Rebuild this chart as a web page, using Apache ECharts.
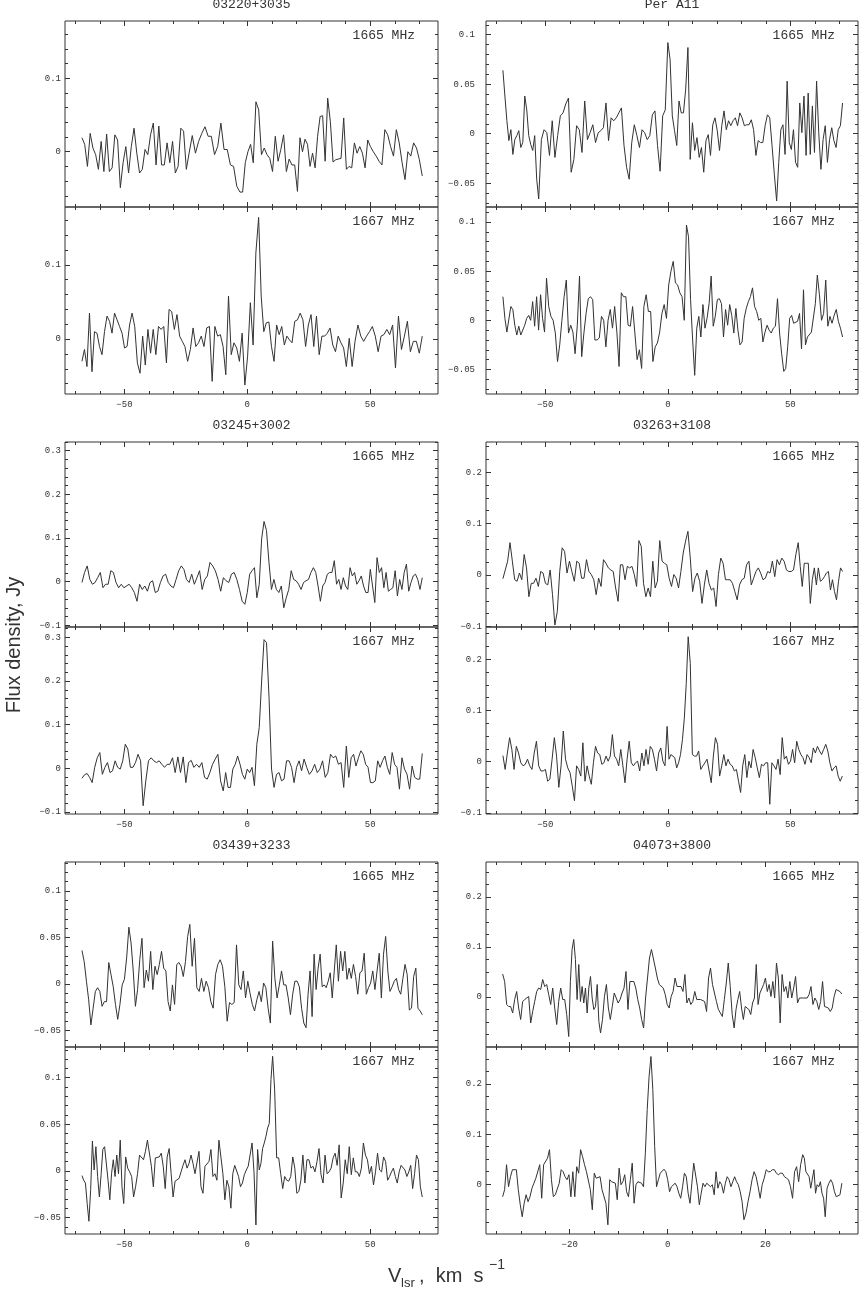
<!DOCTYPE html>
<html><head><meta charset="utf-8">
<script src="https://cdn.jsdelivr.net/npm/echarts@6/dist/echarts.min.js"></script>
<style>html,body{margin:0;padding:0;background:#fff}#c{width:859px;height:1291px}</style>
</head><body><div id="c"></div><script>
// ---------------- data ----------------
const sources = ['03220+3035', 'Per A11', '03245+3002', '03263+3108', '03439+3233', '04073+3800'];
const lineNames = ['1665 MHz', '1667 MHz'];

// velocity axes (km/s)
const xRange = [-74.2, 77.6];
const xRangeF = [-37.1, 38.9];
const xMajor = [-50, 0, 50];
const xMinor = [-70, -60, -50, -40, -30, -20, -10, 0, 10, 20, 30, 40, 50, 60, 70];
const xMajorF = [-20, 0, 20];
const xMinorF = [-35, -30, -25, -20, -15, -10, -5, 0, 5, 10, 15, 20, 25, 30, 35];

// flux axes (Jy)
const yRangeA = [[-0.0753, 0.178], [-0.074, 0.178]];
const yRangeB = [[-0.0741, 0.1138], [-0.075, 0.1153]];
const yRangeC = [[-0.104, 0.32], [-0.105, 0.324]];
const yRangeD = [[-0.1008, 0.2585], [-0.102, 0.263]];
const yRangeE = [[-0.0677, 0.131], [-0.0677, 0.133]];
const yRangeF = [[-0.1, 0.27], [-0.0994, 0.274]];
const yMajorA = [0, 0.1];
const yMinorA = [-0.06, -0.04, -0.02, 0, 0.02, 0.04, 0.06, 0.08, 0.1, 0.12, 0.14, 0.16];
const yMajorB = [-0.05, 0, 0.05, 0.1];
const yMinorB = [-0.07, -0.06, -0.05, -0.04, -0.03, -0.02, -0.01, 0, 0.01, 0.02, 0.03, 0.04, 0.05, 0.06, 0.07, 0.08, 0.09, 0.1, 0.11];
const yMajorC = [-0.1, 0, 0.1, 0.2, 0.3];
const yMinorC = [-0.08, -0.06, -0.04, -0.02, 0, 0.02, 0.04, 0.06, 0.08, 0.1, 0.12, 0.14, 0.16, 0.18, 0.2, 0.22, 0.24, 0.26, 0.28, 0.3, 0.32];
const yMajorD = [-0.1, 0, 0.1, 0.2];
const yMinorD = [-0.075, -0.05, -0.025, 0, 0.025, 0.05, 0.075, 0.1, 0.125, 0.15, 0.175, 0.2, 0.225, 0.25];
const yMajorE = [-0.05, 0, 0.05, 0.1];
const yMinorE = [-0.06, -0.05, -0.04, -0.03, -0.02, -0.01, 0, 0.01, 0.02, 0.03, 0.04, 0.05, 0.06, 0.07, 0.08, 0.09, 0.1, 0.11, 0.12, 0.13];
const yMajorF = [0, 0.1, 0.2];
const yMinorF = [-0.075, -0.05, -0.025, 0, 0.025, 0.05, 0.075, 0.1, 0.125, 0.15, 0.175, 0.2, 0.225, 0.25];

// spectra (flux in Jy, channel order). Channel velocities: read at the listed channel indices.
const s03220_1665 = [0.019,0.010,-0.020,0.025,0.005,-0.004,-0.024,0.014,-0.027,0.024,-0.027,-0.022,0.023,0.016,-0.049,-0.015,0.007,-0.029,0.007,0.032,-0.002,-0.029,-0.024,0.003,-0.004,0.023,0.039,-0.018,0.035,-0.018,-0.018,0.012,-0.015,0.014,-0.029,-0.020,0.032,0.028,-0.024,-0.002,0.022,-0.002,0.014,0.025,0.034,0.021,0.021,-0.004,0.007,0.039,0.003,0.003,-0.018,-0.020,-0.047,-0.055,-0.055,-0.015,0.000,0.010,-0.015,0.068,0.057,-0.004,0.005,-0.004,-0.009,-0.027,0.021,-0.013,0.003,0.023,-0.027,-0.010,-0.018,-0.018,-0.054,0.019,0.000,0.017,0.010,-0.020,-0.002,-0.022,0.021,0.048,0.049,-0.013,0.073,0.041,-0.014,-0.011,-0.010,-0.009,0.046,-0.024,-0.020,-0.022,0.012,-0.002,0.007,-0.002,-0.022,0.016,0.007,0.000,-0.006,-0.013,-0.018,0.030,0.023,0.007,-0.006,0.030,0.012,-0.015,-0.038,0.000,-0.006,0.012,0.005,-0.011,-0.033];
const k03220_1665_i = [0, 19, 39, 55, 61, 76, 88, 104, 122];
const k03220_1665_v = [-67.3, -46.1, -23.7, -3.0, 3.5, 20.4, 32.7, 50.1, 71.2];

const s03220_1667 = [-0.030,-0.014,-0.037,0.035,-0.044,0.010,0.008,-0.010,-0.021,0.010,0.031,0.024,0.008,0.035,0.026,0.017,0.008,-0.012,-0.010,0.019,0.035,0.017,-0.032,-0.046,0.004,-0.035,0.013,-0.019,0.013,-0.021,0.017,0.013,0.017,-0.032,0.040,0.037,0.013,0.033,0.004,-0.003,-0.010,-0.030,-0.014,0.015,-0.010,-0.005,0.004,-0.010,0.015,0.017,-0.057,0.017,0.004,0.006,-0.010,-0.048,0.058,-0.021,-0.005,-0.012,-0.030,0.008,-0.062,-0.023,0.049,-0.008,0.116,0.164,0.058,0.010,0.022,0.023,-0.010,-0.030,0.019,0.006,0.017,-0.008,0.004,-0.001,-0.005,0.024,0.026,0.035,0.026,-0.010,0.019,0.033,-0.010,0.031,-0.021,0.004,0.004,0.008,0.015,-0.008,-0.017,0.004,-0.005,-0.012,-0.037,0.001,-0.037,-0.003,0.019,0.004,-0.003,0.004,0.010,0.017,0.004,-0.017,0.004,0.006,0.013,0.006,0.019,-0.039,0.031,-0.014,0.004,0.024,-0.017,-0.003,-0.003,-0.019,0.004];
const k03220_1667_i = [0, 20, 40, 62, 67, 80, 100, 117, 126];
const k03220_1667_v = [-67.3, -46.9, -25.4, -1.0, 4.6, 18.2, 40.3, 60.3, 71.2];

const sPerA11_1665 = [0.064,0.038,0.013,-0.007,0.004,-0.021,-0.006,-0.002,0.003,-0.014,-0.009,0.038,0.024,-0.002,-0.011,-0.017,-0.002,-0.046,-0.066,-0.006,0.004,0.001,-0.022,0.013,-0.024,-0.002,0.018,0.021,0.030,0.036,-0.039,-0.026,0.008,0.004,-0.019,0.033,-0.006,0.001,0.009,-0.009,0.001,0.003,0.006,0.031,-0.007,0.016,0.013,0.016,0.021,0.026,-0.012,-0.034,-0.046,-0.009,0.009,-0.002,-0.014,0.004,0.001,-0.006,-0.002,0.019,0.023,-0.012,-0.038,0.018,0.024,0.092,0.075,0.018,0.003,-0.012,0.033,0.021,0.021,0.045,0.087,-0.026,0.011,-0.017,-0.004,-0.024,-0.014,-0.039,-0.007,-0.001,-0.022,0.009,0.016,0.003,-0.017,0.008,0.023,0.004,0.013,0.008,0.013,0.016,0.008,0.021,0.016,0.008,0.009,0.009,0.014,0.004,-0.022,-0.007,-0.009,-0.009,0.008,0.019,0.016,-0.012,-0.041,-0.068,-0.029,0.004,0.009,-0.021,0.053,-0.009,-0.016,0.004,-0.029,-0.034,0.031,0.001,0.038,-0.022,0.041,-0.021,0.028,-0.019,0.053,0.001,-0.036,-0.006,0.008,-0.029,-0.006,0.006,-0.007,-0.014,0.004,0.008,0.031];
const kPerA11_1665_i = [0, 18, 40, 67, 76, 100, 115, 134, 146];
const kPerA11_1665_v = [-67.3, -52.7, -28.4, 0.0, 8.2, 30.3, 44.4, 60.7, 71.3];

const sPerA11_1667 = [0.024,0.002,-0.012,-0.013,0.014,0.011,-0.005,-0.015,-0.006,-0.015,-0.013,-0.005,0.002,0.005,0.000,0.019,-0.006,0.024,-0.010,0.026,0.002,-0.012,0.043,0.014,0.004,0.000,-0.013,-0.042,-0.025,0.000,0.024,0.041,-0.013,-0.005,-0.012,-0.034,-0.005,0.045,-0.037,-0.013,0.007,0.022,0.024,0.021,-0.020,-0.020,-0.018,0.004,0.000,-0.027,0.000,0.011,-0.008,0.014,-0.012,-0.047,0.028,0.024,0.024,-0.005,-0.006,0.014,-0.013,-0.040,-0.030,-0.049,0.014,0.026,0.009,0.009,-0.042,-0.027,-0.023,-0.012,0.007,0.016,0.002,0.036,0.050,0.060,0.038,0.036,0.028,0.024,0.000,0.097,0.085,0.021,-0.020,-0.056,-0.008,0.004,-0.017,0.016,-0.008,0.002,0.017,0.045,-0.006,0.004,0.021,0.022,0.017,-0.017,0.011,-0.005,0.016,0.005,-0.013,0.012,-0.010,-0.025,-0.022,0.002,0.012,0.019,0.024,0.033,0.014,0.009,0.000,0.002,-0.022,-0.012,-0.005,-0.010,-0.013,-0.008,-0.006,0.022,-0.013,-0.034,-0.052,-0.049,-0.027,0.002,0.005,-0.003,-0.005,-0.001,0.007,-0.029,0.031,-0.025,-0.017,-0.017,-0.012,-0.012,0.017,0.046,0.026,0.000,0.007,0.041,-0.006,0.004,-0.003,0.005,0.011,-0.001,-0.008,-0.017];
const kPerA11_1667_i = [0, 22, 55, 79, 85, 110, 132, 149, 161];
const kPerA11_1667_v = [-67.3, -49.5, -19.9, 2.2, 7.6, 28.6, 47.3, 61.0, 71.3];

const s03245_1665 = [-0.002,0.021,0.036,0.005,-0.006,-0.002,0.009,0.021,-0.014,-0.006,-0.006,0.025,0.021,-0.002,-0.014,-0.006,-0.014,-0.010,-0.006,-0.014,-0.025,-0.045,-0.006,-0.018,-0.010,-0.022,-0.002,0.002,-0.025,-0.022,-0.002,0.013,0.017,-0.002,-0.010,-0.014,0.005,0.025,0.036,0.028,0.005,-0.002,0.017,-0.006,0.009,0.025,-0.018,0.005,0.013,0.044,0.036,0.025,0.005,-0.022,0.009,0.002,-0.002,0.017,0.021,0.005,-0.018,-0.045,-0.052,-0.025,0.017,0.025,0.032,-0.037,-0.006,0.098,0.138,0.117,0.044,-0.018,0.005,-0.018,-0.025,-0.010,-0.060,-0.037,-0.018,0.025,0.005,0.002,-0.006,-0.018,-0.002,0.002,0.005,0.021,0.032,0.021,-0.010,-0.045,-0.010,-0.002,0.017,0.021,0.021,0.048,-0.006,0.005,-0.018,0.009,-0.010,-0.018,0.032,0.013,0.021,-0.006,0.002,0.013,-0.010,-0.025,-0.025,0.028,-0.010,-0.048,0.055,0.021,0.032,-0.014,0.021,-0.022,-0.018,-0.014,0.025,-0.033,0.005,-0.018,0.021,0.040,-0.022,-0.002,0.013,0.017,0.005,-0.018,0.009];
const k03245_1665_i = [0, 21, 49, 62, 70, 90, 99, 118, 138];
const k03245_1665_v = [-67.3, -44.9, -15.2, -1.0, 6.8, 26.9, 35.4, 52.8, 71.2];

const s03245_1667 = [-0.023,-0.015,-0.012,-0.021,-0.033,0.002,0.024,0.036,-0.014,0.002,0.013,-0.010,-0.006,0.017,0.002,-0.002,0.017,0.055,0.044,0.002,0.002,0.013,0.032,0.017,-0.086,-0.029,0.017,0.024,0.017,0.013,0.017,0.009,0.002,0.009,0.009,0.024,-0.010,0.026,-0.010,0.026,-0.033,0.013,0.018,0.002,0.009,0.002,0.013,-0.021,-0.025,-0.010,0.009,0.021,0.032,-0.029,-0.052,-0.010,-0.044,-0.044,-0.002,0.009,0.028,0.009,-0.014,-0.025,-0.002,-0.010,0.002,-0.040,0.055,0.093,0.200,0.295,0.288,0.162,-0.002,-0.044,-0.014,-0.010,-0.029,-0.025,0.017,0.017,0.002,-0.033,0.002,0.017,-0.006,0.021,0.002,-0.014,-0.006,0.009,-0.010,-0.002,0.017,-0.021,-0.010,0.032,0.024,0.028,0.009,0.013,-0.044,0.051,-0.021,0.024,0.032,0.005,0.024,0.040,0.032,0.009,0.002,-0.033,-0.033,-0.029,0.017,0.002,0.017,0.028,0.002,-0.014,0.036,0.009,0.002,-0.048,0.024,-0.002,-0.014,-0.048,0.005,-0.021,-0.025,-0.025,0.034];
const k03245_1667_i = [0, 24, 54, 71, 87, 103, 125, 134];
const k03245_1667_v = [-67.3, -42.4, -9.8, 6.8, 23.1, 40.3, 61.9, 71.2];

const s03263_1665 = [-0.007,0.010,0.027,0.063,0.027,-0.009,-0.012,0.004,-0.009,0.040,0.014,-0.042,-0.016,-0.016,-0.006,-0.022,0.007,0.004,-0.016,-0.019,0.010,-0.038,-0.097,-0.071,0.007,0.053,0.046,0.004,0.027,0.007,-0.012,0.027,0.023,-0.006,-0.006,0.030,0.007,0.001,-0.009,-0.038,-0.006,-0.022,0.030,0.023,0.014,0.010,0.007,-0.025,-0.051,0.020,0.020,-0.009,0.017,0.014,0.017,0.001,-0.022,0.067,0.056,-0.016,-0.042,-0.025,-0.042,0.027,-0.025,-0.012,0.067,0.027,0.023,0.020,-0.006,-0.022,0.001,-0.006,-0.025,0.007,0.043,0.066,0.085,0.033,-0.032,-0.006,0.004,-0.012,-0.055,-0.019,0.010,-0.016,-0.029,-0.025,-0.061,0.001,0.033,0.023,-0.009,-0.009,-0.009,-0.016,-0.032,-0.048,-0.019,-0.009,-0.006,0.020,0.027,-0.019,-0.006,0.007,0.014,0.004,-0.009,-0.006,0.007,0.004,0.027,-0.003,0.030,0.020,0.033,0.027,0.010,0.007,0.007,0.010,0.040,0.063,0.017,-0.022,0.023,0.023,0.023,-0.055,-0.009,0.014,-0.019,0.014,-0.012,-0.009,-0.003,0.004,0.007,-0.029,-0.009,-0.032,-0.048,-0.012,0.014,0.007];
const k03263_1665_i = [0, 22, 48, 66, 78, 99, 125, 147];
const k03263_1665_v = [-67.3, -46.1, -20.3, -3.3, 8.2, 28.3, 53.2, 71.3];

const s03263_1667 = [0.012,-0.015,0.017,0.047,0.024,-0.015,0.030,0.017,-0.002,-0.008,-0.005,0.005,-0.008,-0.015,0.017,0.040,-0.008,-0.018,-0.018,-0.015,-0.038,-0.034,0.005,0.047,0.011,-0.050,-0.008,0.060,0.005,-0.012,-0.021,-0.047,-0.076,-0.008,-0.015,-0.028,0.037,-0.038,-0.008,-0.028,-0.044,-0.002,0.030,0.017,0.014,-0.005,-0.002,0.011,0.001,0.011,0.053,0.011,0.005,-0.008,0.024,-0.008,-0.041,0.005,0.040,-0.002,-0.008,-0.002,0.001,-0.018,0.017,-0.008,0.024,-0.005,0.030,0.024,0.005,-0.018,0.017,0.027,0.001,-0.008,0.069,0.005,0.014,0.017,0.008,-0.012,-0.002,0.014,0.043,0.085,0.153,0.244,0.192,0.014,0.011,0.011,0.021,-0.015,-0.008,-0.002,0.005,-0.018,-0.041,0.011,0.047,0.034,-0.028,-0.008,0.014,-0.008,0.005,-0.005,-0.008,-0.018,-0.015,-0.038,-0.060,-0.008,0.014,-0.031,0.001,-0.012,0.024,0.008,-0.012,-0.031,-0.005,-0.008,-0.002,-0.002,-0.083,-0.002,-0.008,-0.015,0.005,-0.025,0.047,0.005,0.011,-0.005,0.001,0.024,-0.002,0.040,0.024,0.014,0.008,-0.005,0.014,0.008,-0.002,0.027,0.017,0.030,0.021,0.014,0.024,0.034,0.021,-0.002,-0.018,-0.012,-0.008,-0.028,-0.038,-0.028];
const k03263_1667_i = [0, 32, 76, 87, 112, 126, 161];
const k03263_1667_v = [-67.3, -38.1, -0.3, 8.3, 29.7, 41.6, 71.2];

const s03439_1665 = [0.036,0.024,0.003,-0.017,-0.044,-0.026,-0.008,-0.004,-0.008,-0.024,-0.019,-0.019,0.023,0.010,-0.003,-0.022,-0.038,-0.022,-0.001,0.005,0.028,0.061,0.044,0.014,-0.024,-0.006,0.026,0.049,-0.004,0.015,0.003,0.035,-0.006,0.019,0.010,0.021,0.035,0.017,0.014,-0.019,-0.029,-0.001,-0.022,0.021,0.023,0.019,0.008,0.024,0.051,0.064,0.019,0.049,-0.004,-0.008,0.006,-0.008,0.003,-0.004,-0.019,-0.026,0.010,0.021,0.026,0.019,-0.003,-0.040,-0.020,-0.022,-0.020,0.042,-0.001,-0.006,0.014,-0.015,0.003,-0.010,-0.022,-0.029,-0.017,-0.008,-0.019,0.001,-0.004,-0.026,-0.042,0.046,0.006,-0.015,-0.001,0.014,-0.001,-0.001,-0.015,-0.033,-0.011,0.003,0.003,-0.003,-0.026,-0.042,-0.047,-0.011,0.014,-0.035,0.032,-0.006,0.017,0.032,-0.003,-0.001,-0.004,0.003,0.012,-0.015,0.014,0.042,0.003,0.035,0.014,0.035,0.005,0.017,0.006,0.021,0.008,-0.011,0.012,0.014,0.033,-0.011,-0.004,0.001,0.014,-0.006,0.014,0.033,-0.015,0.032,0.051,0.014,-0.008,-0.003,0.003,0.006,-0.006,-0.011,0.006,0.021,0.010,-0.028,-0.026,0.008,0.017,-0.026,-0.029,-0.033];
const k03439_1665_i = [0, 21, 49, 69, 85, 100, 115, 138, 155];
const k03439_1665_v = [-67.3, -48.2, -23.4, -4.4, 10.3, 23.9, 36.2, 56.3, 71.2];

const s03439_1667 = [-0.005,-0.010,-0.013,-0.035,-0.054,-0.020,0.032,0.001,0.026,-0.006,-0.028,-0.004,0.023,0.026,0.024,-0.010,-0.031,-0.003,0.012,-0.006,0.017,-0.003,0.033,-0.017,-0.035,0.015,0.003,-0.001,-0.006,-0.028,-0.017,-0.003,0.017,0.015,0.012,0.021,0.033,0.034,0.005,-0.017,0.014,0.012,0.015,0.019,0.005,-0.019,0.015,0.024,-0.003,-0.028,-0.011,-0.010,-0.008,-0.001,0.006,0.012,0.003,0.008,0.017,0.008,-0.003,-0.003,0.021,-0.017,-0.024,0.005,0.006,0.010,0.023,-0.006,-0.003,-0.010,0.033,0.032,-0.003,-0.031,-0.010,-0.017,-0.040,-0.003,0.006,0.005,-0.006,-0.017,-0.013,-0.004,0.001,0.005,0.005,0.030,-0.001,-0.058,0.023,0.001,0.008,0.024,0.030,0.037,0.046,0.051,0.098,0.123,0.087,0.014,0.014,-0.003,-0.019,-0.006,-0.010,-0.011,-0.006,0.015,0.003,-0.024,-0.022,-0.010,0.017,-0.013,0.012,0.012,0.003,0.005,-0.001,0.010,0.024,-0.004,-0.013,0.017,-0.003,-0.001,0.003,0.014,0.019,0.006,0.028,-0.029,-0.013,0.012,-0.003,0.026,-0.004,0.014,-0.001,-0.001,-0.006,0.003,0.030,0.017,0.012,-0.003,0.005,-0.015,-0.001,0.019,0.001,-0.001,0.015,0.010,-0.010,-0.006,-0.001,0.003,-0.006,-0.013,-0.001,0.006,0.005,0.001,-0.006,-0.001,0.006,-0.019,-0.003,0.017,0.012,-0.017,-0.028];
const k03439_1667_i = [0, 24, 50, 78, 91, 101, 135, 158, 176];
const k03439_1667_v = [-67.3, -50.3, -29.4, -6.7, 3.5, 10.3, 38.2, 57.1, 71.2];

const s04073_1665 = [0.046,0.031,-0.015,-0.019,-0.019,-0.032,-0.005,0.011,-0.022,-0.045,-0.009,-0.005,-0.002,0.001,-0.052,-0.029,-0.009,0.011,0.018,0.015,0.035,0.021,0.025,0.005,-0.015,0.018,-0.022,-0.055,-0.009,0.018,-0.005,-0.005,-0.035,-0.079,0.031,0.095,0.115,0.075,-0.005,0.065,-0.009,0.021,-0.012,0.018,-0.032,0.018,0.041,-0.002,-0.025,-0.019,0.025,-0.049,-0.072,-0.045,0.001,0.025,-0.022,-0.045,-0.019,0.008,0.005,-0.012,-0.005,0.008,0.018,0.051,-0.025,0.031,0.031,0.031,0.018,-0.005,-0.022,-0.045,-0.062,-0.002,0.038,0.078,0.095,0.098,0.058,0.038,0.025,0.021,0.018,0.005,-0.015,-0.022,0.001,0.011,0.038,0.021,0.018,0.021,0.011,0.045,-0.012,-0.002,-0.015,-0.009,0.011,-0.005,-0.002,-0.005,-0.002,-0.009,-0.029,0.038,0.058,0.025,0.008,-0.009,-0.025,-0.032,-0.039,-0.005,0.028,0.068,0.021,-0.035,-0.062,-0.025,-0.005,0.011,-0.022,-0.045,-0.019,-0.015,-0.025,-0.035,-0.012,-0.002,0.065,-0.015,0.008,0.011,0.025,0.038,0.011,0.025,0.001,0.031,-0.002,0.068,0.038,-0.052,0.045,0.011,0.021,-0.002,0.031,-0.002,0.018,0.041,-0.012,-0.002,-0.005,-0.002,-0.005,-0.002,0.005,0.021,-0.015,-0.002,-0.009,-0.025,-0.009,0.031,-0.019,-0.019,-0.022,-0.029,-0.022,0.001,0.015,0.018,0.011,0.006];
const k04073_1665_i = [0, 33, 52, 79, 120, 145, 177];
const k04073_1665_v = [-33.7, -20.2, -13.7, -2.9, 13.6, 23.0, 35.6];

const s04073_1667 = [-0.025,-0.011,0.039,-0.005,0.015,0.029,0.031,0.029,-0.011,-0.041,-0.065,-0.038,-0.021,-0.035,-0.025,-0.008,0.002,0.012,0.015,0.039,-0.028,0.039,0.042,0.052,0.069,0.009,-0.025,-0.021,-0.021,0.002,0.029,0.025,0.015,0.009,0.019,-0.025,0.025,-0.025,0.035,0.022,0.069,0.055,0.039,0.025,0.022,-0.011,-0.051,0.022,0.012,0.015,0.015,-0.011,-0.011,-0.038,-0.081,0.009,0.005,0.005,0.002,-0.031,0.032,-0.001,0.005,0.019,-0.015,-0.025,0.009,0.042,-0.038,-0.001,0.005,0.002,0.002,-0.005,0.062,0.149,0.215,0.255,0.189,0.075,-0.005,0.009,0.022,0.022,0.030,0.025,0.009,-0.015,-0.005,-0.005,0.002,-0.005,-0.018,-0.028,-0.005,0.022,0.015,-0.018,-0.038,0.002,0.042,0.045,-0.005,-0.041,-0.018,0.002,-0.005,0.002,-0.001,-0.005,-0.001,-0.021,0.025,-0.008,0.005,-0.001,-0.018,0.002,0.015,0.009,-0.005,0.005,0.015,0.005,-0.001,-0.015,-0.035,-0.071,-0.058,-0.035,-0.015,0.009,0.025,0.015,-0.005,-0.028,-0.001,0.012,0.029,0.025,0.025,0.029,0.029,0.022,0.019,0.022,0.022,0.015,0.012,0.009,-0.005,-0.028,0.025,0.035,0.005,0.039,0.059,0.052,0.025,0.025,0.015,-0.008,-0.005,0.029,-0.018,-0.001,-0.005,0.005,-0.018,-0.028,-0.065,-0.008,0.002,0.009,0.002,-0.015,-0.025,-0.028,-0.021,0.002];
const k04073_1667_i = [0, 10, 54, 77, 127, 156, 170, 179];
const k04073_1667_v = [-33.7, -29.7, -12.2, -3.4, 15.6, 27.6, 32.2, 35.6];

// ---------------- layout / style ----------------
const INK = '#333333';
const MONO = '"Liberation Mono", "DejaVu Sans Mono", monospace';
const SANS = '"Liberation Sans", "DejaVu Sans", sans-serif';
const colLeft = [65, 486];
const colWidth = [373, 372];
const panelTop = [[21, 207], [442, 627], [862, 1047]];
const panelH = [[186, 187], [185, 187], [185, 187]];

const panels = [
  {src:0, ln:0, col:0, row:0, s:s03220_1665, ki:k03220_1665_i, kv:k03220_1665_v, yr:yRangeA[0], yMaj:yMajorA, yMin:yMinorA, xr:xRange, xMaj:xMajor, xMin:xMinor},
  {src:0, ln:1, col:0, row:0, s:s03220_1667, ki:k03220_1667_i, kv:k03220_1667_v, yr:yRangeA[1], yMaj:yMajorA, yMin:yMinorA, xr:xRange, xMaj:xMajor, xMin:xMinor},
  {src:1, ln:0, col:1, row:0, s:sPerA11_1665, ki:kPerA11_1665_i, kv:kPerA11_1665_v, yr:yRangeB[0], yMaj:yMajorB, yMin:yMinorB, xr:xRange, xMaj:xMajor, xMin:xMinor},
  {src:1, ln:1, col:1, row:0, s:sPerA11_1667, ki:kPerA11_1667_i, kv:kPerA11_1667_v, yr:yRangeB[1], yMaj:yMajorB, yMin:yMinorB, xr:xRange, xMaj:xMajor, xMin:xMinor},
  {src:2, ln:0, col:0, row:1, s:s03245_1665, ki:k03245_1665_i, kv:k03245_1665_v, yr:yRangeC[0], yMaj:yMajorC, yMin:yMinorC, xr:xRange, xMaj:xMajor, xMin:xMinor},
  {src:2, ln:1, col:0, row:1, s:s03245_1667, ki:k03245_1667_i, kv:k03245_1667_v, yr:yRangeC[1], yMaj:yMajorC, yMin:yMinorC, xr:xRange, xMaj:xMajor, xMin:xMinor},
  {src:3, ln:0, col:1, row:1, s:s03263_1665, ki:k03263_1665_i, kv:k03263_1665_v, yr:yRangeD[0], yMaj:yMajorD, yMin:yMinorD, xr:xRange, xMaj:xMajor, xMin:xMinor},
  {src:3, ln:1, col:1, row:1, s:s03263_1667, ki:k03263_1667_i, kv:k03263_1667_v, yr:yRangeD[1], yMaj:yMajorD, yMin:yMinorD, xr:xRange, xMaj:xMajor, xMin:xMinor},
  {src:4, ln:0, col:0, row:2, s:s03439_1665, ki:k03439_1665_i, kv:k03439_1665_v, yr:yRangeE[0], yMaj:yMajorE, yMin:yMinorE, xr:xRange, xMaj:xMajor, xMin:xMinor},
  {src:4, ln:1, col:0, row:2, s:s03439_1667, ki:k03439_1667_i, kv:k03439_1667_v, yr:yRangeE[1], yMaj:yMajorE, yMin:yMinorE, xr:xRange, xMaj:xMajor, xMin:xMinor},
  {src:5, ln:0, col:1, row:2, s:s04073_1665, ki:k04073_1665_i, kv:k04073_1665_v, yr:yRangeF[0], yMaj:yMajorF, yMin:yMinorF, xr:xRangeF, xMaj:xMajorF, xMin:xMinorF},
  {src:5, ln:1, col:1, row:2, s:s04073_1667, ki:k04073_1667_i, kv:k04073_1667_v, yr:yRangeF[1], yMaj:yMajorF, yMin:yMinorF, xr:xRangeF, xMaj:xMajorF, xMin:xMinorF}
];

// channel velocity from the read-off velocities of marked channels
function channelVelocity(i, ki, kv) {
  let j = 0;
  while (j < ki.length - 2 && i > ki[j + 1]) j++;
  const t = (i - ki[j]) / (ki[j + 1] - ki[j]);
  return kv[j] + t * (kv[j + 1] - kv[j]);
}
function fmt(v) {
  const r = Math.round(v * 1000) / 1000;
  if (r === 0) return '0';
  return (r < 0 ? '\u2212' : '') + String(Math.abs(r));
}

const grids = [], xAxes = [], yAxes = [], series = [], graphics = [];
panels.forEach((p, i) => {
  const top = panelTop[p.row][p.ln], h = panelH[p.row][p.ln];
  const left = colLeft[p.col], w = colWidth[p.col];
  grids.push({left: left, top: top, width: w, height: h, show: true, borderColor: INK, borderWidth: 1, backgroundColor: 'transparent', containLabel: false});
  const isBottom = p.ln === 1;
  const xa = (pos, ticks, len, lab) => ({
    type: 'value', gridIndex: i, position: pos, min: p.xr[0], max: p.xr[1],
    axisLine: {show: false, onZero: false}, splitLine: {show: false},
    axisTick: {show: true, inside: true, length: len, customValues: ticks, lineStyle: {color: INK, width: 1}},
    axisLabel: {show: lab, customValues: p.xMaj, margin: 6, fontFamily: MONO, fontSize: 9, color: INK, formatter: fmt}
  });
  xAxes.push(xa('bottom', p.xMaj, 5, isBottom), xa('bottom', p.xMin, 3, false), xa('top', p.xMaj, 5, false), xa('top', p.xMin, 3, false));
  const lm = p.src === 1 ? 11 : 4;
  const ya = (pos, ticks, len, lab) => ({
    type: 'value', gridIndex: i, position: pos, min: p.yr[0], max: p.yr[1],
    axisLine: {show: false, onZero: false}, splitLine: {show: false},
    axisTick: {show: true, inside: true, length: len, customValues: ticks, lineStyle: {color: INK, width: 1}},
    axisLabel: {show: lab, customValues: p.yMaj, margin: lm, fontFamily: MONO, fontSize: 9, color: INK, formatter: fmt}
  });
  yAxes.push(ya('left', p.yMaj, 5, true), ya('left', p.yMin, 3, false), ya('right', p.yMaj, 5, false), ya('right', p.yMin, 3, false));
  const data = p.s.map((f, k) => [channelVelocity(k, p.ki, p.kv), f]);
  series.push({type: 'line', xAxisIndex: 4 * i, yAxisIndex: 4 * i, data: data, symbol: 'none', showSymbol: false, silent: true, clip: true, animation: false, lineStyle: {color: INK, width: 1}});
  // frequency label
  graphics.push({type: 'text', x: left + w - 23, y: top + 15, silent: true,
    style: {text: lineNames[p.ln], font: '13px ' + MONO, fill: INK, textAlign: 'right', textVerticalAlign: 'middle'}});
  if (p.ln === 0) {
    graphics.push({type: 'text', x: left + w / 2, y: top - 16, silent: true,
      style: {text: sources[p.src], font: '13px ' + MONO, fill: INK, textAlign: 'center', textVerticalAlign: 'middle'}});
  }
});

// axis titles
graphics.push({type: 'text', x: 14, y: 645, rotation: Math.PI / 2, silent: true,
  style: {text: 'Flux density, Jy', font: '20px ' + SANS, fill: INK, textAlign: 'center', textVerticalAlign: 'middle'}});
graphics.push({type: 'text', x: 388, y: 1286, silent: true, style: {text: 'V', font: '20px ' + SANS, fill: INK, textAlign: 'left', textVerticalAlign: 'bottom'}});
graphics.push({type: 'text', x: 401, y: 1290, silent: true, style: {text: 'lsr', font: '13px ' + SANS, fill: INK, textAlign: 'left', textVerticalAlign: 'bottom'}});
graphics.push({type: 'text', x: 419, y: 1286, silent: true, style: {text: ',  km  s', font: '20px ' + SANS, fill: INK, textAlign: 'left', textVerticalAlign: 'bottom'}});
graphics.push({type: 'text', x: 489, y: 1272, silent: true, style: {text: '\u22121', font: '14px ' + SANS, fill: INK, textAlign: 'left', textVerticalAlign: 'bottom'}});

const chart = echarts.init(document.getElementById('c'), null, {renderer: 'canvas', width: 859, height: 1291});
chart.setOption({
  animation: false,
  backgroundColor: '#ffffff',
  grid: grids, xAxis: xAxes, yAxis: yAxes, series: series, graphic: graphics
});
</script></body></html>
